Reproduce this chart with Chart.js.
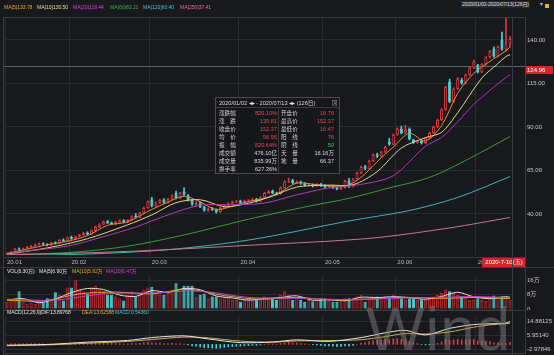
<!DOCTYPE html>
<html><head><meta charset="utf-8">
<script src="https://cdn.jsdelivr.net/npm/chart.js@4"></script>
<style>
html,body{margin:0;padding:0;background:#18191d;width:554px;height:355px;overflow:hidden;font-family:"Liberation Sans","Noto Sans CJK SC",sans-serif;}
canvas{position:absolute;left:0;}
.t{position:absolute;font-size:5.1px;line-height:7px;white-space:nowrap;letter-spacing:-0.1px;}
.ln{position:absolute;background:#3a3b40;}
#info{position:absolute;left:215px;top:97px;width:123px;height:75px;border:1px solid #4a4b50;background:rgba(22,23,27,0.95);font-size:5.6px;color:#d8d8d8;}
#info .hd{position:absolute;left:3px;top:2px;width:118px;height:7px;line-height:7px;white-space:nowrap;}
#info .r{position:absolute;left:0;width:123px;height:8px;line-height:8px;}
#info .r span{position:absolute;top:0;white-space:nowrap;}
#wm{position:absolute;left:366px;top:298px;font-size:62px;line-height:1;color:rgba(125,125,125,0.5);font-family:"Liberation Sans",sans-serif;letter-spacing:1px;}
</style></head>
<body>
<canvas id="main" width="554" height="268" style="top:0"></canvas>
<canvas id="vol" width="554" height="44" style="top:266px"></canvas>
<canvas id="macd" width="554" height="43" style="top:312px"></canvas>

<div class="ln" style="left:3px;top:17px;width:522px;height:1px"></div>
<div class="ln" style="left:3px;top:257px;width:522px;height:1px"></div>
<div class="ln" style="left:0px;top:267px;width:554px;height:1px"></div>
<div class="ln" style="left:3px;top:310px;width:522px;height:1px"></div>
<div class="ln" style="left:3px;top:353px;width:522px;height:1px"></div>
<div class="ln" style="left:3px;top:17px;width:1px;height:338px"></div>
<div class="ln" style="left:512px;top:17px;width:1px;height:338px"></div>
<div class="ln" style="left:525px;top:17px;width:1px;height:338px"></div>

<div class="t" style="left:461px;top:1px;color:#e0e0e0;background:#26272c;padding:0 1px">2020/01/02-2020/07/13(126日)</div>
<div class="t" style="left:539px;top:1px;color:#bdbdbd">▼</div>
<div style="position:absolute;left:545px;top:4px;width:4px;height:4px;background:#e2b52c"></div>

<div id="info">
  <div class="hd">2020/01/02 ◂▸ - 2020/07/13 ◂▸ (126日)<span style="position:absolute;left:113px;color:#aaa">⊠</span></div>
  <div style="position:absolute;left:0;top:9px;width:123px;height:1px;background:#3a3b40"></div>
  <div style="position:absolute;left:62px;top:9px;width:1px;height:66px;background:#3a3b40"></div>
  <div id="rows"></div>
</div>

<div id="wm">Wind</div>

<script>
// ---------- categories ----------
const dates = [
'01-02','01-03','01-06','01-07','01-08','01-09','01-10','01-13','01-14','01-15','01-16','01-17','01-20','01-21','01-22','01-23',
'02-03','02-04','02-05','02-06','02-07','02-10','02-11','02-12','02-13','02-14','02-17','02-18','02-19','02-20','02-21','02-24','02-25','02-26','02-27','02-28',
'03-02','03-03','03-04','03-05','03-06','03-09','03-10','03-11','03-12','03-13','03-16','03-17','03-18','03-19','03-20','03-23','03-24','03-25','03-26','03-27','03-30','03-31',
'04-01','04-02','04-03','04-07','04-08','04-09','04-10','04-13','04-14','04-15','04-16','04-17','04-20','04-21','04-22','04-23','04-24','04-27','04-28','04-29','04-30',
'05-06','05-07','05-08','05-11','05-12','05-13','05-14','05-15','05-18','05-19','05-20','05-21','05-22','05-25','05-26','05-27','05-28','05-29',
'06-01','06-02','06-03','06-04','06-05','06-08','06-09','06-10','06-11','06-12','06-15','06-16','06-17','06-18','06-19','06-22','06-23','06-24','06-29','06-30',
'07-01','07-02','07-03','07-06','07-07','07-08','07-09','07-10','07-13'];
const tickDates  = ['01-02','02-03','03-02','04-01','05-06','06-01','07-01'];
const tickLabels = ['20.01','20.02','20.03','20.04','20.05','20.06','20.07'];
const priceTicks = [40,65,90,115,140];
const volTicks = [0,8,16];
const volTickLabels = ['0','8万','16万'];
const macdTicks = [-2.97846,5.95140,14.88125];

// ---------- candles ----------
const opens = [16.76,17.0,18.3,20.2,19.5,20.3,21.0,21.6,22.4,23.2,
22.6,22.0,23.7,23.0,25.3,24.6,26.8,25.8,27.0,28.0,
29.3,28.4,30.5,32.5,34.0,35.8,35.0,34.3,35.5,36.4,
35.2,36.5,39.2,38.0,40.5,43.5,48.5,44.5,46.5,48.3,
46.5,48.5,52.0,49.0,53.0,50.8,48.0,45.5,46.3,44.0,
42.0,43.3,42.8,41.2,43.5,45.0,46.0,47.0,47.6,46.5,
47.5,47.8,48.6,47.2,49.5,52.0,53.2,52.2,51.5,55.0,
58.5,59.5,57.8,58.6,57.6,56.5,57.0,56.0,57.2,56.3,
55.5,56.0,55.0,54.3,55.0,59.3,55.8,60.0,63.5,67.3,
66.0,70.5,74.3,73.0,75.5,81.5,80.0,85.5,88.8,86.7,
89.0,82.6,81.0,82.0,80.8,83.5,86.5,90.0,94.0,100.0,
116.0,104.5,112.0,117.0,115.0,120.0,124.0,125.5,121.5,126.0,
130.0,135.0,130.5,140.0,134.5,138.0];
const highs = [17.6,18.5,20.3,20.6,20.6,21.4,21.9,22.8,23.4,23.5,
22.9,23.8,24.0,25.4,25.8,26.8,27.3,27.4,28.4,29.5,
29.8,30.9,33.0,34.5,36.0,36.3,35.4,35.9,36.7,36.8,
36.9,39.0,40.2,41.0,44.0,47.5,49.6,47.0,48.5,48.8,
49.0,51.0,53.2,52.5,55.0,51.2,48.3,47.0,46.8,44.5,
43.5,43.8,43.0,43.9,45.4,46.5,47.4,47.9,48.0,48.0,
48.3,49.0,49.0,50.0,52.5,53.6,53.8,52.6,55.5,59.2,
60.5,60.0,59.0,59.0,58.0,57.5,57.3,57.5,57.6,56.7,
56.5,56.3,55.3,55.5,59.5,60.5,60.5,64.0,67.5,68.0,
71.0,74.5,75.0,76.0,79.0,83.5,86.0,89.5,90.5,91.0,
89.5,83.0,82.3,82.4,84.0,87.0,90.5,94.5,100.5,113.5,
117.5,112.5,118.5,118.0,120.5,124.5,128.5,126.0,126.5,130.5,
134.0,136.0,136.5,144.5,152.37,142.0];
const lows = [16.47,16.9,18.1,19.2,19.3,20.0,20.7,21.4,22.1,22.2,
21.7,21.8,22.7,22.9,24.2,24.4,25.4,25.6,26.8,27.7,
28.0,28.2,30.3,32.2,33.8,34.5,33.9,34.0,35.2,34.9,
35.0,36.3,37.7,37.8,40.2,43.2,44.0,44.2,46.0,46.0,
46.2,48.2,48.6,48.7,50.5,47.5,45.0,45.0,43.6,41.6,
41.5,42.0,40.5,41.0,43.2,44.7,45.7,46.6,46.1,46.2,
47.1,47.5,46.8,47.0,49.2,51.7,51.6,51.0,51.3,54.8,
58.0,57.3,57.5,57.0,56.0,56.2,55.5,55.8,55.8,55.0,
55.2,54.6,53.8,54.0,54.8,55.3,55.5,59.7,63.2,65.5,
65.8,70.2,72.4,72.7,75.2,79.5,79.7,85.2,86.0,86.3,
82.5,80.5,80.6,80.2,80.5,83.2,86.2,89.7,93.7,99.5,
104.0,104.2,111.5,114.5,114.7,119.5,123.5,121.0,121.2,125.5,
129.5,130.0,130.2,134.0,133.5,136.0];
const closes = [17.0,18.2,20.0,19.5,20.3,21.0,21.6,22.4,23.0,22.5,
22.0,23.5,23.0,25.0,24.5,26.5,25.8,27.0,28.0,29.0,
28.3,30.5,32.5,34.0,35.5,34.8,34.3,35.5,36.2,35.2,
36.5,38.5,38.0,40.5,43.5,47.0,44.5,46.5,48.0,46.5,
48.5,50.5,49.0,52.0,51.0,48.0,45.5,46.5,44.0,42.0,
43.0,42.5,41.2,43.5,45.0,46.0,47.0,47.3,46.5,47.5,
47.8,48.5,47.2,49.5,52.0,53.0,52.0,51.5,55.0,58.5,
59.0,57.8,58.5,57.5,56.5,57.0,56.0,57.0,56.2,55.5,
56.0,55.0,54.3,55.0,59.0,55.8,60.0,63.5,67.0,66.0,
70.5,74.0,73.0,75.5,78.5,80.0,85.5,89.0,86.5,88.2,
83.0,81.0,81.8,80.8,83.5,86.5,90.0,94.0,100.0,113.0,
104.5,112.0,117.5,115.0,120.0,124.0,127.5,121.5,126.0,130.0,
133.5,130.5,136.0,134.5,138.0,140.5];

// ---------- price moving averages (read at sample days) ----------
const ma5Idx = [0,5,10,15,20,25,30,35,40,44,48,52,56,60,64,68,72,76,80,84,88,92,96,100,104,108,112,116,120,124,125];
const ma5Val = [17.3,19.8,22.3,24.3,27.6,33.5,35.5,41.5,46.8,50.2,47.0,42.5,44.5,47.2,49.0,52.7,57.8,57.1,56.1,55.9,61.1,70.1,78.5,86.4,82.0,90.8,109.4,120.8,127.7,133.78,135.9];
const ma10Idx = [0,10,20,30,36,42,48,54,60,66,72,80,86,92,98,104,108,112,118,122,124,125];
const ma10Val = [17.0,20.5,25.8,33.8,39.5,46.5,48.2,44.2,46.2,50.3,55.5,56.6,56.8,64.4,77.9,83.9,86.9,98.2,118.1,126.4,130.5,131.5];
const ma20Idx = [0,8,16,24,32,40,48,56,64,72,80,88,96,104,108,112,116,120,124,125];
const ma20Val = [17.5,19.5,22.0,27.0,32.5,39.5,45.0,45.3,46.3,51.0,55.0,57.0,62.0,79.0,84.0,93.0,103.0,111.0,118.44,120.0];
const ma60Idx = [0,15,30,45,60,75,85,95,105,115,125];
const ma60Val = [16.8,17.8,21.5,28.5,37.0,44.5,49.0,55.0,61.0,72.0,84.5];
const ma120Idx = [0,20,40,60,85,100,112,125];
const ma120Val = [16.0,17.0,19.5,25.0,36.0,42.0,49.5,61.5];
const ma250Idx = [0,30,60,90,110,125];
const ma250Val = [16.5,18.5,22.0,26.0,32.0,38.0];

// ---------- volume (万) ----------
const volumes = [4,5,6,10,4,3,3.5,3,4,3.6,
6,5,9.4,8,4.7,12,12,16.16,11,10,
8.5,12,13,11,10,8,8,7,6,4.7,
8,10,7,9,11,12,12.5,9,8,8,
9,11,14.5,10,13,13,13,7,8,8.5,
6,7,7,6,7,6,5,5,4.2,5,
6,5,5.4,6,7,6,6,5,8,10,
8,5,6,5,4,5,4.3,5,6,6,
5,4,4,4,6,6,6,7,8,4,
6,7,7,6,7,6.5,8,7,6,5,
6,6,5,5.5,5,6,7,8,9,11,
10,9,8,7,7,5,5,6,5,4.5,
6.5,7.5,7,7.2,6.3,5];
const vma5Idx = [0,4,8,12,16,20,24,28,32,36,40,44,48,52,56,60,64,68,72,76,80,84,88,92,96,100,104,108,112,116,120,124,125];
const vma5Val = [5,5.8,3.5,5.6,9.2,11.5,10.9,7.8,7.1,10.3,9.3,11.5,10.8,7.3,6.2,5.0,5.9,6.4,7.4,4.9,5.3,4.6,6.6,6.4,6.9,6.4,5.5,7.0,9.4,6.8,5.8,6.9,6.6];
const vma10Idx = [0,9,18,27,36,45,54,63,72,81,90,99,108,117,124,125];
const vma10Val = [5,4.5,8.5,9.5,8.5,11,7.5,5.5,6.5,5,5.5,6.5,6,6.5,5.92,5.9];
const vma20Idx = [0,12,24,36,48,60,72,84,96,108,116,124,125];
const vma20Val = [5.5,5,8.5,9,10,6.5,6,5.3,6,6.5,7,6.47,6.4];

// ---------- MACD ----------
const macdBars = [0.3,0.4,0.6,0.4,0.5,0.5,0.5,0.6,0.6,0.4,
0.2,0.3,0.2,0.4,0.2,0.4,0.2,0.4,0.6,0.8,
0.6,0.9,1.2,1.4,1.5,1.1,0.8,0.7,0.6,0.3,
0.4,0.7,0.5,0.8,1.2,1.6,1.0,0.9,0.9,0.5,
0.6,0.8,0.4,0.6,0.3,-0.3,-0.9,-1.2,-1.6,-2.1,
-2.2,-2.4,-2.6,-2.3,-2.0,-1.7,-1.4,-1.2,-1.1,-0.9,
-0.8,-0.6,-0.6,-0.3,0.1,0.4,0.3,0.2,0.6,1.1,
1.3,1.0,0.9,0.6,0.3,0.1,-0.2,-0.3,-0.6,-0.9,
-1.0,-1.2,-1.4,-1.3,-0.9,-1.1,-0.6,0.1,0.9,1.1,
1.8,2.5,2.6,2.9,3.2,3.1,3.6,3.9,3.3,2.8,
2.0,1.2,0.6,-0.1,-0.3,-0.2,0.2,0.8,1.6,3.2,
2.6,3.0,3.4,3.0,3.1,3.2,3.2,2.4,2.2,2.0,
1.8,1.0,1.0,0.4,0.54,1.4];
const difIdx = [0,10,20,30,36,44,50,58,66,72,80,88,94,99,104,110,116,120,124,125];
const difVal = [-0.5,0.0,1.5,2.6,4.5,5.6,3.6,1.2,1.6,3.0,2.0,4.5,7.6,9.2,6.2,10.5,13.0,13.5,13.9,15.0];
const deaVal = [-0.8,-0.3,0.8,2.0,3.2,4.8,4.3,2.2,1.5,2.3,2.5,3.1,5.1,7.2,6.8,8.2,11.3,12.8,13.63,13.9];

// ---------- crosshair / texts ----------
const crossPrice = 124.96;
const crossDate = '07-10';
const crossDateText = '2020-7-10(五)';
const maLegend = [['MA(5)133.78','#e2a43c',4],['MA(10)130.50','#e8dc96',37],['MA(20)118.44','#cc44cc',73],['MA(60)83.21','#3faa3f',110],['MA(120)60.40','#44c4c4',143],['MA(250)37.41','#e07585',180]];
const volLegend = [['VOL(6.30万)','#e0e0e0',7],['MA(5)6.90万','#e0e0e0',39],['MA(10)5.92万','#e2a43c',72],['MA(20)6.47万','#cc44cc',106]];
const macdLegend = [['MACD(12,26,9)','#e0e0e0',7],['DIF:13.89768','#e0e0e0',41],['DEA:13.62588','#e2a43c',82],['MACD:0.54360','#44c4c4',115]];
const infoLabels1 = ['涨跌幅','涨　跌','收盘价','均　价','振　幅','成交额','成交量','换手率'];
const infoValues1 = ['820.10%','135.81','152.37','56.95','820.64%','476.10亿','835.99万','627.36%'];
const infoColors1 = ['r','r','r','r','r','w','w','w'];
const infoLabels2 = ['开盘价','最高价','最低价','阳　线','阴　线','天　量','地　量',''];
const infoValues2 = ['16.76','152.37','16.47','76','50','16.16万','66.37',''];
const infoColors2 = ['r','r','r','r','g','w','w','w'];

// ---------- styling ----------
const BG='#18191d', GRID='#2a2b30', UP='#e0363d', DN='#45d3d5';
const FONT = {family:'"Liberation Sans","Noto Sans CJK SC",sans-serif', size:6};
const colMap = {r:'#ec4650', g:'#4cc35a', w:'#dadada'};

function addTexts(list, top){
  list.forEach(([txt,col,left])=>{
    const d=document.createElement('div'); d.className='t';
    d.style.left=left+'px'; d.style.top=top+'px'; d.style.color=col; d.textContent=txt;
    document.body.appendChild(d);
  });
}
addTexts(maLegend, 4);
addTexts(volLegend, 268);
addTexts(macdLegend, 309);

const rows=document.getElementById('rows');
infoLabels1.forEach((l,i)=>{
  const r=document.createElement('div'); r.className='r'; r.style.top=(10.5+i*8.1)+'px';
  r.innerHTML=`<span style="left:3px;color:#d0d0d0">${l}</span><span style="right:62px;color:${colMap[infoColors1[i]]}">${infoValues1[i]}</span><span style="left:65px;color:#d0d0d0">${infoLabels2[i]}</span><span style="right:5px;color:${colMap[infoColors2[i]]}">${infoValues2[i]}</span>`;
  rows.appendChild(r);
});

const up = closes.map((c,i)=>c>=opens[i]);
const pts = (idx, vals) => idx.map((k,j)=>({x:dates[k], y:vals[j]}));
const monthIdx = tickDates.map(d=>dates.indexOf(d));
const vgrid = ctx => (ctx.index!==undefined && monthIdx.includes(ctx.index)) ? GRID : 'rgba(0,0,0,0)';
const lineDs = (data,color,order=0)=>({type:'line',data,borderColor:color,borderWidth:1,pointRadius:0,tension:0.3,fill:false,order});
const noPad = s=>{s.paddingTop=0;s.paddingBottom=0;s.paddingLeft=0;s.paddingRight=0;};
const common = {responsive:false, animation:false, devicePixelRatio:1, events:[],
  plugins:{legend:{display:false}, tooltip:{enabled:false}}};

const crossPlugin = {
  id:'cross',
  beforeDatasetsDraw(chart){
    const {ctx, scales:{y}} = chart;
    const py = Math.round(y.getPixelForValue(crossPrice))+0.5;
    ctx.save(); ctx.strokeStyle='#5e5f65'; ctx.lineWidth=1;
    ctx.beginPath(); ctx.moveTo(3,py); ctx.lineTo(525,py); ctx.stroke(); ctx.restore();
  },
  afterDraw(chart){
    const {ctx, scales:{x,y}} = chart;
    const py = Math.round(y.getPixelForValue(crossPrice));
    ctx.save();
    ctx.fillStyle='#d5262e'; ctx.fillRect(525,py,28,8);
    ctx.fillStyle='#fff'; ctx.font='6px "Liberation Sans"'; ctx.textBaseline='middle'; ctx.textAlign='left';
    ctx.fillText(crossPrice.toFixed(2),527,py+4.5);
    const px = x.getPixelForValue(dates.indexOf(crossDate));
    ctx.fillStyle='#d5262e'; ctx.fillRect(Math.round(px-24),258,44,9);
    ctx.fillStyle='#fff'; ctx.textAlign='center'; ctx.fillText(crossDateText,px-2,262.8);
    ctx.restore();
  }
};

// ---------- main price chart ----------
new Chart(document.getElementById('main'), {
  type:'bar',
  data:{labels:dates, datasets:[
    lineDs(pts(ma250Idx,ma250Val),'#c27a86'),
    lineDs(pts(ma120Idx,ma120Val),'#3fb3b5'),
    lineDs(pts(ma60Idx,ma60Val),'#3c9a3e'),
    lineDs(pts(ma20Idx,ma20Val),'#b23cb8'),
    lineDs(pts(ma10Idx,ma10Val),'#e4d48a'),
    lineDs(pts(ma5Idx,ma5Val),'#e58a3a'),
    {label:'body', data:dates.map((d,i)=>[opens[i],closes[i]]),
     backgroundColor:up.map(u=>u?BG:DN), borderColor:up.map(u=>u?UP:DN), borderWidth:1, borderSkipped:false,
     barPercentage:0.78, categoryPercentage:1, grouped:false, order:1},
    {label:'wick', data:dates.map((d,i)=>[lows[i],highs[i]]),
     backgroundColor:up.map(u=>u?UP:DN), barThickness:1, grouped:false, order:2}
  ]},
  options:{...common,
    layout:{padding:{left:5,top:17,right:0,bottom:0}},
    scales:{
      x:{grid:{offset:true,color:vgrid,drawTicks:false}, border:{display:false},
         ticks:{autoSkip:false,maxRotation:0,minRotation:0,align:'start',padding:4,color:'#b8b8b8',font:FONT,
           callback:(v,i)=>{const k=tickDates.indexOf(dates[i]); return k>=0?tickLabels[k]:'';}},
         afterFit:s=>{noPad(s); s.height=13;}},
      y:{position:'right', min:16.44, max:153.2, grid:{color:GRID,drawTicks:false}, border:{display:false},
         ticks:{padding:15,color:'#c8c8c8',font:FONT,callback:v=>Number(v).toFixed(2)},
         afterBuildTicks:s=>{s.ticks=priceTicks.map(v=>({value:v}));},
         afterFit:s=>{noPad(s); s.width=42;}}
    }
  },
  plugins:[crossPlugin]
});

// ---------- volume chart ----------
new Chart(document.getElementById('vol'), {
  type:'bar',
  data:{labels:dates, datasets:[
    lineDs(pts(vma20Idx,vma20Val),'#c040c0'),
    lineDs(pts(vma10Idx,vma10Val),'#e2a43c'),
    lineDs(pts(vma5Idx,vma5Val),'#dcdcdc'),
    {data:volumes, backgroundColor:up.map(u=>u?'rgba(170,34,40,0.45)':DN), borderColor:up.map(u=>u?'#b52a31':DN),
     borderWidth:1, borderSkipped:false, barPercentage:0.78, categoryPercentage:1, order:1}
  ]},
  options:{...common,
    layout:{padding:{left:5,top:10,right:0,bottom:1}},
    scales:{
      x:{grid:{offset:true,color:vgrid,drawTicks:false}, border:{display:false}, ticks:{display:false},
         afterFit:s=>{noPad(s); s.height=0;}},
      y:{position:'right', min:0, max:18.5, grid:{color:GRID,drawTicks:false}, border:{display:false},
         ticks:{padding:15,color:'#c8c8c8',font:FONT,callback:v=>volTickLabels[volTicks.indexOf(v)]},
         afterBuildTicks:s=>{s.ticks=volTicks.map(v=>({value:v}));},
         afterFit:s=>{noPad(s); s.width=42;}}
    }
  }
});

// ---------- MACD chart ----------
new Chart(document.getElementById('macd'), {
  type:'bar',
  data:{labels:dates, datasets:[
    lineDs(pts(difIdx,difVal),'#e6e6e6'),
    lineDs(pts(difIdx,deaVal),'#d6aa45'),
    {data:macdBars, backgroundColor:macdBars.map(v=>v>=0?UP:DN), barThickness:1, order:1}
  ]},
  options:{...common,
    layout:{padding:{left:5,top:4,right:0,bottom:3}},
    scales:{
      x:{grid:{offset:true,color:vgrid,drawTicks:false}, border:{display:false}, ticks:{display:false},
         afterFit:s=>{noPad(s); s.height=0;}},
      y:{position:'right', min:-4.94, max:18.6, grid:{color:GRID,drawTicks:false}, border:{display:false},
         ticks:{padding:15,color:'#c8c8c8',font:FONT,callback:v=>Number(v).toFixed(5)},
         afterBuildTicks:s=>{s.ticks=macdTicks.map(v=>({value:v}));},
         afterFit:s=>{noPad(s); s.width=42;}}
    }
  }
});
</script>
</body></html>
